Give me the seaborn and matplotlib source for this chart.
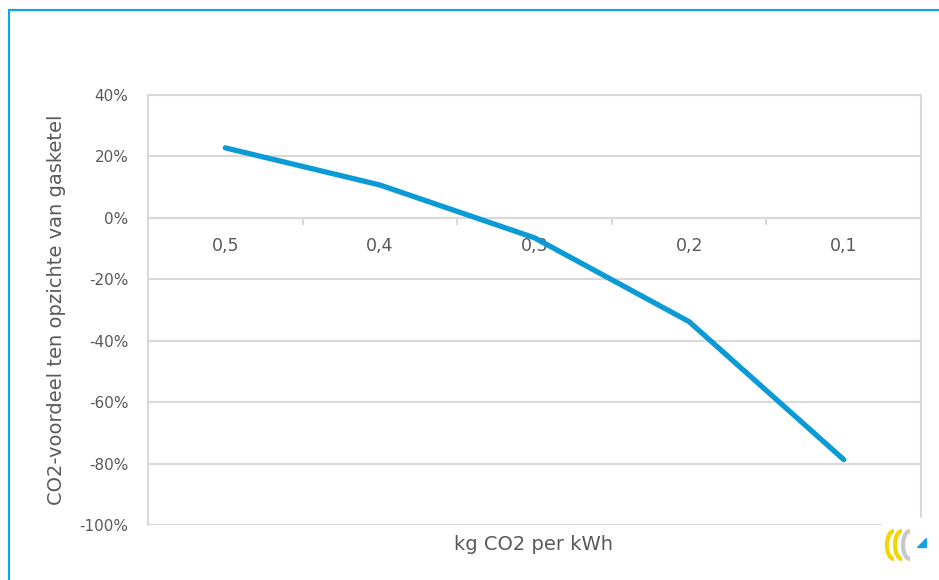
import matplotlib
matplotlib.use("Agg")
import matplotlib.pyplot as plt
import matplotlib.patches as mpatches
from matplotlib.lines import Line2D
from matplotlib.ticker import FixedLocator, PercentFormatter
import pandas as pd
import seaborn as sns

# data
emission_labels = ["0,5", "0,4", "0,3", "0,2", "0,1"]
co2_benefit = [0.228, 0.107, -0.065, -0.338, -0.787]
y_ticks = [0.4, 0.2, 0.0, -0.2, -0.4, -0.6, -0.8, -1.0]

LINE_BLUE = "#0a9ad6"
GRID = "#d9d9d9"
TEXT = "#595959"

sns.set_theme(style="white")
plt.rcParams["font.family"] = ["DejaVu Sans"]
plt.rcParams["axes.unicode_minus"] = False

df = pd.DataFrame({"kwh": emission_labels, "benefit": co2_benefit})
df["pos"] = range(len(df))

fig = plt.figure(figsize=(9.39, 5.80), dpi=100)
ax = fig.add_axes([0.1576, 0.0948, 0.8233, 0.7414])

sns.lineplot(data=df, x="pos", y="benefit", ax=ax, color=LINE_BLUE,
             linewidth=3.8, solid_capstyle="round", zorder=3)

ax.set_xlim(-0.5, len(df) - 0.5)
ax.set_ylim(-1.0, 0.4)
ax.yaxis.set_major_locator(FixedLocator(y_ticks))
ax.yaxis.set_major_formatter(PercentFormatter(1.0, decimals=0))
ax.grid(axis="y", color=GRID, linewidth=1.5, zorder=0)
ax.grid(axis="x", visible=False)

# category axis sits on the 0% line, ticks between categories
ax.spines["bottom"].set_position(("data", 0))
for side in ["bottom", "top", "left", "right"]:
    ax.spines[side].set_color(GRID)
    ax.spines[side].set_linewidth(1.5)
ax.axhline(-1.0, color=GRID, linewidth=1.5, zorder=0)

ax.set_xticks([p - 0.5 for p in df["pos"]] + [len(df) - 0.5])
ax.set_xticklabels([])
ax.set_xticks(df["pos"], minor=True)
ax.set_xticklabels(df["kwh"], minor=True)
ax.tick_params(axis="x", which="major", length=5, width=1.5, color=GRID,
               direction="out", bottom=True)
ax.tick_params(axis="x", which="minor", length=0, pad=14, labelsize=12.5,
               labelcolor=TEXT)
ax.tick_params(axis="y", length=0, pad=14, labelsize=11, labelcolor=TEXT)

ax.set_xlabel("")
ax.set_ylabel("CO2-voordeel ten opzichte van gasketel", fontsize=14,
              color=TEXT, labelpad=10)
fig.text(0.568, 0.061, "kg CO2 per kWh", ha="center", va="center",
         fontsize=14, color=TEXT)

# blue frame of the screenshot (top and left edges visible)
fig.add_artist(Line2D([9 / 939, 1.0], [1 - 10 / 580, 1 - 10 / 580],
                      color="#10a4e4", linewidth=1.6, transform=fig.transFigure))
fig.add_artist(Line2D([9 / 939, 9 / 939], [0.0, 1 - 10 / 580],
                      color="#10a4e4", linewidth=1.6, transform=fig.transFigure))

# small logo in the bottom-right corner over the chart border
fig.add_artist(mpatches.Rectangle((882 / 939, 0.02), 50 / 939, 50 / 580,
                                  transform=fig.transFigure, color="white",
                                  zorder=5))
for cx, col in [(894, "#f2d600"), (902, "#f2d600"), (910, "#c8c8c8")]:
    fig.add_artist(mpatches.Arc((cx / 939, 1 - 545 / 580), 14 / 939, 28 / 580,
                                theta1=90, theta2=270, color=col, linewidth=3,
                                transform=fig.transFigure, zorder=6))
fig.add_artist(mpatches.Polygon([(917 / 939, 1 - 547 / 580),
                                 (926 / 939, 1 - 547 / 580),
                                 (926 / 939, 1 - 538 / 580)],
                                closed=True, color="#1aa0dc",
                                transform=fig.transFigure, zorder=6))

fig.savefig("out.png", dpi=100)
